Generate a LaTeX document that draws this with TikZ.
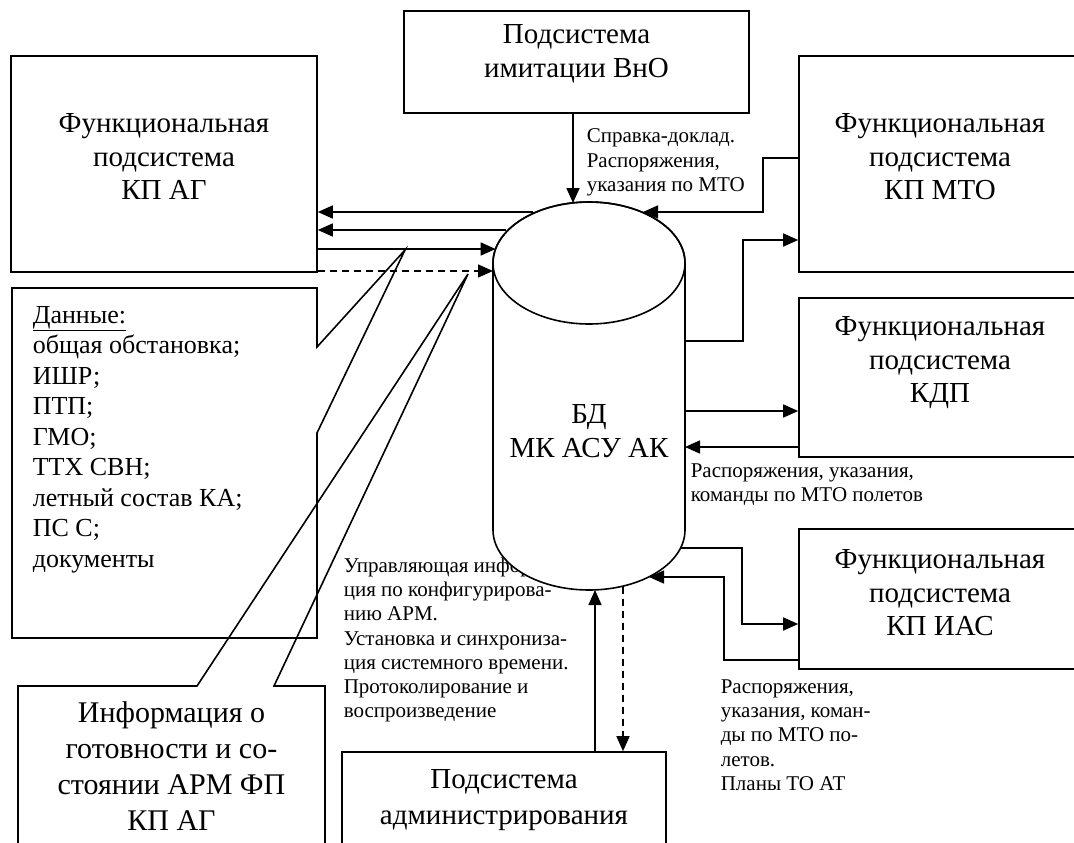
\documentclass[tikz,border=0pt]{standalone}
\usepackage{fontspec}
\setmainfont{Liberation Serif}
\usetikzlibrary{arrows.meta,calc}
\begin{document}
\begin{tikzpicture}[x=1pt,y=-1pt,
  line width=1.6pt, line join=miter,
  box/.style={draw, rectangle, inner sep=0pt, line width=1.6pt},
  big/.style={font=\fontsize{29}{33.5}\selectfont, align=center, inner sep=0pt},
  bigger/.style={font=\fontsize{30}{36}\selectfont, align=center, inner sep=0pt},
  small/.style={font=\fontsize{21}{24.3}\selectfont, align=left, inner sep=0pt, anchor=west},
  datafont/.style={font=\fontsize{26}{30.5}\selectfont, align=left, inner sep=0pt, anchor=west},
  arr/.style={-{Triangle[length=15pt,width=13pt]}},
  dsh/.style={dash pattern=on 7pt off 5pt},
]
\useasboundingbox (0,0) rectangle (1074,843);
\clip (0,0) rectangle (1074,843);
\fill[white] (0,0) rectangle (1074,843);

% boxes
\node[box, minimum width=306pt, minimum height=216pt] (kpag) at (164,164) {};
\node[big] (kpagT) at (164,157) {Функциональная\\подсистема\\КП АГ};

\node[box, minimum width=345pt, minimum height=102pt] (vno) at (576.5,62) {};
\node[big] (vnoT) at (576.5,54) {Подсистема\\имитации ВнО};

\node[box, minimum width=282pt, minimum height=216pt] (kpmto) at (940,164) {};
\node[big] (kpmtoT) at (940,157) {Функциональная\\подсистема\\КП МТО};

\node[box, minimum width=282pt, minimum height=159pt] (kdp) at (940,377.5) {};
\node[big] (kdpT) at (940,363) {Функциональная\\подсистема\\КДП};

\node[box, minimum width=282pt, minimum height=140pt] (kpias) at (940,599) {};
\node[big] (kpiasT) at (940,593) {Функциональная\\подсистема\\КП ИАС};

\node[box, minimum width=324pt, minimum height=96pt] (admin) at (504,800) {};
\node[font=\fontsize{29}{36}\selectfont, align=center, inner sep=0pt] (adminT) at (504,800) {Подсистема\\администрирования};

% data callout
\draw (317,347) -- (405,250) -- (317,433) -- (317,638) -- (12,638) -- (12,288) -- (317,288) -- cycle;
\node[datafont] (data) at (32,439.5) {\underline{Данные:}\\общая обстановка;\\ИШР;\\ПТП;\\ГМО;\\ТТХ СВН;\\летный состав КА;\\ПС С;\\документы};

% info callout
\draw (197,686) -- (468,274) -- (274,686) -- (325,686) -- (325,870) -- (18,870) -- (18,686) -- cycle;
\node[bigger] (info) at (171.5,766) {Информация о\\готовности и со-\\стоянии АРМ ФП\\КП АГ};

% text partly hidden by the cylinder
\node[small] (ctl) at (343,640) {Управляющая информа-\\ция по конфигурирова-\\нию АРМ.\\Установка и синхрониза-\\ция системного времени.\\Протоколирование и\\воспроизведение};

% cylinder
\draw[fill=white] (493,263) -- (493,530)
  .. controls (493,563.1) and (536,590) .. (589,590)
  .. controls (642,590) and (685,563.1) .. (685,530)
  -- (685,263)
  .. controls (685,229.3) and (642,202) .. (589,202)
  .. controls (536,202) and (493,229.3) .. (493,263) -- cycle;
\draw (589,263) ellipse [x radius=96pt, y radius=61pt];
\node[big] (db) at (589,431) {БД\\МК АСУ АК};

% points on the cylinder
\coordinate (dbTop) at (573,203);
\coordinate (dbL1) at (533,212);
\coordinate (dbL2) at (506,230);
\coordinate (dbL3) at (495.6,249);
\coordinate (dbL4) at (493,271);
\coordinate (dbR0) at (643,212);
\coordinate (dbR1) at (685,341);
\coordinate (dbR2) at (685,411);
\coordinate (dbR3) at (685,447);
\coordinate (dbR4) at (680.6,548);
\coordinate (dbR5) at (649,577);
\coordinate (dbB1) at (595,590);
\coordinate (dbB2) at (623,586.5);

% connectors
\draw[arr] (vno.south -| dbTop) -- (dbTop);
\draw[arr] (dbL1) -- (kpag.east |- dbL1);
\draw[arr] (dbL2) -- (kpag.east |- dbL2);
\draw[arr] (kpag.east |- dbL3) -- (dbL3);
\draw[arr, dsh] (kpag.east |- dbL4) -- (dbL4);

\draw[arr] (kpmto.west |- 0,158) -- (763,158) -- (763,212) -- (dbR0);
\draw[arr] (dbR1) -- (743,341) -- (743,240) -- (kpmto.west |- 0,240);
\draw[arr] (dbR2) -- (kdp.west |- dbR2);
\draw[arr] (kdp.west |- dbR3) -- (dbR3);
\draw[arr] (dbR4) -- (742,548) -- (742,624) -- (kpias.west |- 0,624);
\draw[arr] (kpias.west |- 0,660) -- (724,660) -- (724,577) -- (dbR5);
\draw[arr] (admin.north -| dbB1) -- (dbB1);
\draw[arr, dsh] (dbB2) -- (admin.north -| dbB2);

% labels
\node[small] (l1) at (586,162.5) {Справка-доклад.\\Распоряжения,\\указания по МТО};
\node[small] (l2) at (690,485) {Распоряжения, указания,\\команды по МТО полетов};
\node[small] (l3) at (720,735) {Распоряжения,\\указания, коман-\\ды по МТО по-\\летов.\\Планы ТО АТ};
\end{tikzpicture}
\end{document}
